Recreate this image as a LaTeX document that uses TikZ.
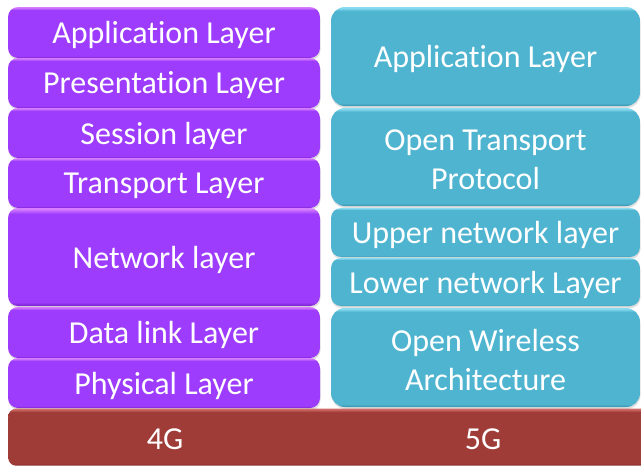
\documentclass[tikz,border=0pt]{standalone}
\usepackage{fontspec}
\setmainfont{Carlito}[Ligatures=NoCommon,RawFeature={-liga;-clig;-dlig}]
\usetikzlibrary{shadows}
\definecolor{purp}{HTML}{9D3CFC}
\definecolor{purpL}{HTML}{D77EFF}
\definecolor{purpD}{HTML}{7A22C8}
\definecolor{teal}{HTML}{4FB4D0}
\definecolor{tealL}{HTML}{8ADCF0}
\definecolor{tealD}{HTML}{3A93AD}
\definecolor{brick}{HTML}{A03C38}
\definecolor{brickL}{HTML}{D06A66}
\definecolor{brickD}{HTML}{7E2B28}
\pgfdeclareverticalshading{purpsh}{100bp}{color(0bp)=(purpD); color(25bp)=(purpD); color(27bp)=(purp); color(72bp)=(purp); color(74.5bp)=(purpL); color(100bp)=(purpL)}
\pgfdeclareverticalshading{tealsh}{100bp}{color(0bp)=(tealD); color(25bp)=(tealD); color(26.5bp)=(teal); color(73bp)=(teal); color(74.6bp)=(tealL); color(100bp)=(tealL)}
\pgfdeclareverticalshading{bricksh}{100bp}{color(0bp)=(brickD); color(25bp)=(brickD); color(27bp)=(brick); color(72bp)=(brick); color(74.5bp)=(brickL); color(100bp)=(brickL)}
\tikzset{
  lay/.style={draw=none, shading=purpsh, rounded corners=10pt,
    minimum width=312pt, inner sep=0pt,
    drop shadow={opacity=0.25, shadow xshift=0.5pt, shadow yshift=-2pt}},
  lay5/.style={lay, shading=tealsh, rounded corners=14pt, minimum width=309pt},
  barbox/.style={draw=none, shading=bricksh, rounded corners=8pt, inner sep=0pt},
  txt/.style={text=white, font=\fontsize{32}{39}\selectfont, inner sep=0pt, align=center, yshift=-2.5pt}
}
\begin{document}
\begin{tikzpicture}[x=1pt,y=-1pt]
\useasboundingbox (0,0) rectangle (641,466);
\fill[white] (0,0) rectangle (641,466);
\begin{scope}
\clip (0,0) rectangle (641,466);
% 4G stack
\node[lay, minimum height=51pt] (app4) at (164,32.5) {};
\node[txt] (app4t) at (app4) {Application Layer};
\node[lay, minimum height=50pt] (pres) at (164,83) {};
\node[txt] (prest) at (pres) {Presentation Layer};
\node[lay, minimum height=50pt] (sess) at (164,133) {};
\node[txt] (sesst) at (sess) {Session layer};
\node[lay, minimum height=50pt] (trans) at (164,183) {};
\node[txt] (transt) at (trans) {Transport Layer};
\node[lay, minimum height=98pt] (net) at (164,257) {};
\node[txt] (nett) at (net) {Network layer};
\node[lay, minimum height=51pt] (dlink) at (164,332.5) {};
\node[txt] (dlinkt) at (dlink) {Data link Layer};
\node[lay, minimum height=50pt] (phys) at (164,383) {};
\node[txt] (physt) at (phys) {Physical Layer};
% 5G stack
\node[lay5, minimum height=99pt] (app5) at (485.5,56.5) {};
\node[txt] (app5t) at (app5) {Application Layer};
\node[lay5, minimum height=98pt] (otp) at (485.5,157) {};
\node[txt] (otpt) at (otp) {Open Transport\\Protocol};
\node[lay5, minimum height=49pt, rounded corners=10pt] (upper) at (485.5,232.5) {};
\node[txt] (uppert) at (upper) {Upper network layer};
\node[lay5, minimum height=48pt, rounded corners=10pt] (lower) at (485.5,282) {};
\node[txt] (lowert) at (lower) {Lower network Layer};
\node[lay5, minimum height=99pt] (owa) at (485.5,357.5) {};
\node[txt] (owat) at (owa) {Open Wireless\\Architecture};
% base bar
\node[barbox, minimum width=645pt, minimum height=57pt, anchor=north west] (bar) at (8,408.5) {};
\end{scope}
\node[txt] (g4) at (165,437) {4G};
\node[txt] (g5) at (483,437) {5G};
\end{tikzpicture}
\end{document}
